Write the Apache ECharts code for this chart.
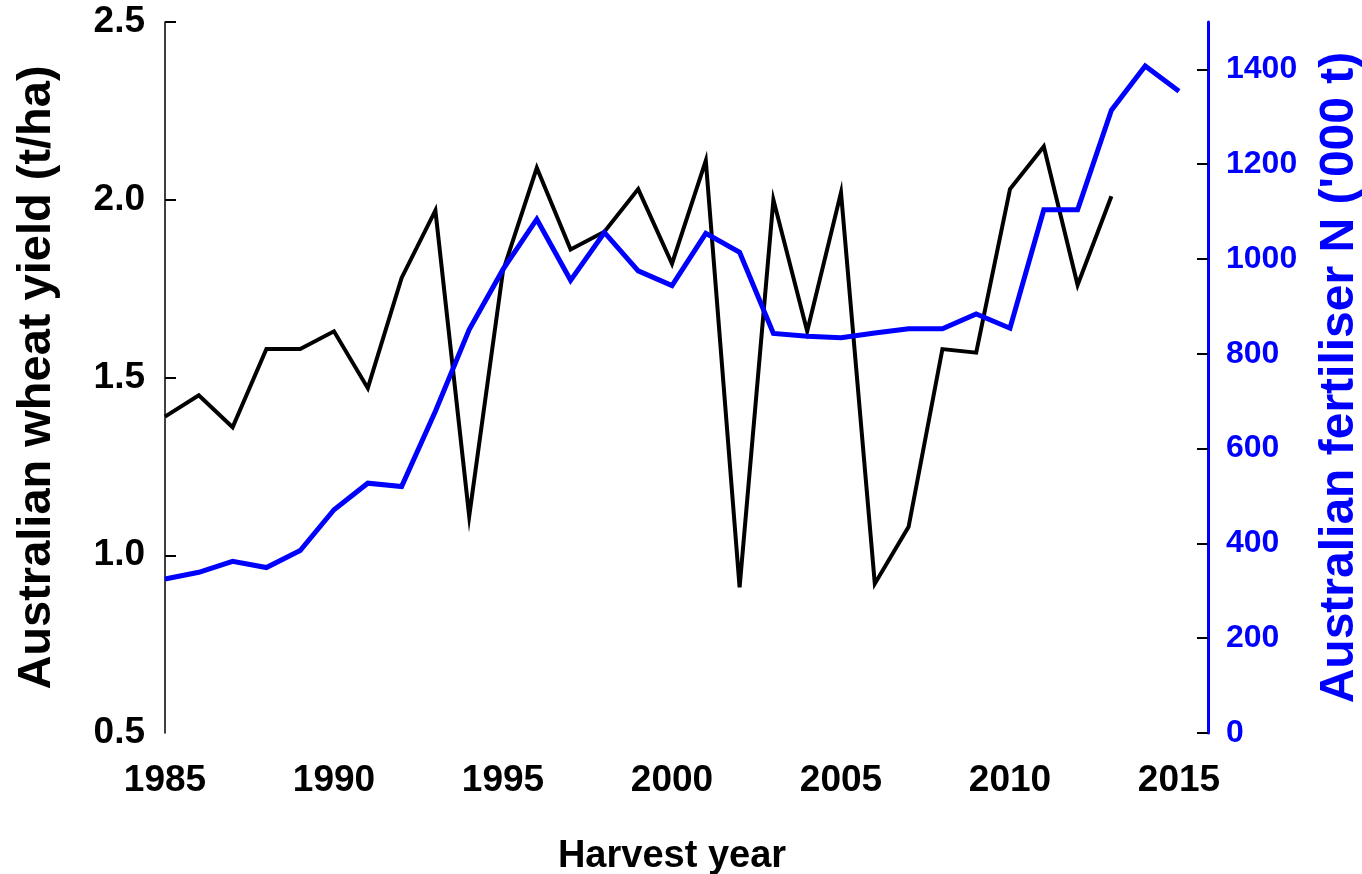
<!DOCTYPE html>
<html>
<head>
<meta charset="utf-8">
<script src="https://cdn.jsdelivr.net/npm/echarts@6/dist/echarts.min.js"></script>
<style>
  html, body { margin: 0; padding: 0; background: #fff; }
  #chart { width: 1362px; height: 874px; }
</style>
</head>
<body>
<div id="chart"></div>
<script>
// harvest years on the x axis
const years = [1985, 1986, 1987, 1988, 1989, 1990, 1991, 1992, 1993, 1994,
  1995, 1996, 1997, 1998, 1999, 2000, 2001, 2002, 2003, 2004,
  2005, 2006, 2007, 2008, 2009, 2010, 2011, 2012, 2013, 2014, 2015]

// wheat yield, t/ha (no values for 2014, 2015)
const wheatYield = [1.39, 1.45, 1.36, 1.58, 1.58, 1.63, 1.47, 1.78, 1.97, 1.11,
  1.80, 2.09, 1.86, 1.91, 2.03, 1.82, 2.11, 0.91, 2.00, 1.63,
  2.02, 0.92, 1.08, 1.58, 1.57, 2.03, 2.15, 1.76, 2.01, null, null]

// fertiliser N, '000 t
const fertiliserN = [325, 339, 362, 349, 385, 471, 527, 520, 679, 851,
  978, 1084, 955, 1056, 975, 944, 1054, 1014, 843, 837,
  834, 844, 853, 853, 884, 854, 1104, 1104, 1314, 1407, 1354]

const yieldLabels = [0.5, 1.0, 1.5, 2.0, 2.5]
const yieldTicks = [1.0, 1.5, 2.0, 2.5]
const fertLabels = [0, 200, 400, 600, 800, 1000, 1200, 1400]

const font = '"Liberation Sans", Arial, sans-serif'
const chart = echarts.init(document.getElementById('chart'))

const option = {
  animation: false,
  grid: { left: 165, right: 183, top: 22, bottom: 141, outerBoundsMode: 'none', containLabel: false },
  xAxis: {
    type: 'value',
    min: 1985,
    max: 2015,
    interval: 5,
    name: 'Harvest year',
    nameLocation: 'middle',
    nameGap: 105,
    nameTextStyle: { fontFamily: font, fontWeight: 'bold', fontSize: 38, color: '#000' },
    axisLine: { show: false },
    axisTick: { show: false },
    splitLine: { show: false },
    axisLabel: { fontFamily: font, fontWeight: 'bold', fontSize: 37, color: '#000', margin: 29, formatter: v => String(v) }
  },
  yAxis: [
    {
      type: 'value',
      min: 0.5,
      max: 2.5,
      interval: 0.5,
      position: 'left',
      name: 'Australian wheat yield (t/ha)',
      nameLocation: 'middle',
      nameGap: 104,
      nameTextStyle: { fontFamily: font, fontWeight: 'bold', fontSize: 47, color: '#000' },
      axisLine: { show: true, lineStyle: { color: '#000', width: 1.5 } },
      axisTick: { show: true, inside: true, length: 11, customValues: yieldTicks, lineStyle: { color: '#000', width: 2 } },
      splitLine: { show: false },
      axisLabel: {
        fontFamily: font, fontWeight: 'bold', fontSize: 37, color: '#000', margin: 20,
        customValues: yieldLabels,
        formatter: v => v.toFixed(1)
      }
    },
    {
      type: 'value',
      min: 0,
      max: 1500,
      interval: 100,
      position: 'right',
      offset: 29,
      name: "Australian fertiliser N ('000 t)",
      nameLocation: 'middle',
      nameGap: 108,
      nameTextStyle: { fontFamily: font, fontWeight: 'bold', fontSize: 48, color: '#0000ff' },
      axisLine: { show: true, lineStyle: { color: '#0000ff', width: 3 } },
      axisTick: { show: true, inside: true, length: 11, customValues: fertLabels, lineStyle: { color: '#000', width: 2 } },
      splitLine: { show: false },
      axisLabel: {
        fontFamily: font, fontWeight: 'bold', fontSize: 32, color: '#0000ff', margin: 18,
        customValues: fertLabels,
        formatter: v => String(v)
      }
    }
  ],
  series: [
    {
      name: 'Wheat yield',
      type: 'line',
      yAxisIndex: 0,
      showSymbol: false,
      symbol: 'none',
      connectNulls: false,
      lineStyle: { color: '#000', width: 4, join: 'miter' },
      data: years.map((y, i) => [y, wheatYield[i]])
    },
    {
      name: 'Fertiliser N',
      type: 'line',
      yAxisIndex: 1,
      showSymbol: false,
      symbol: 'none',
      lineStyle: { color: '#0000ff', width: 5, join: 'miter' },
      data: years.map((y, i) => [y, fertiliserN[i]])
    }
  ]
}

chart.setOption(option)
</script>
</body>
</html>
